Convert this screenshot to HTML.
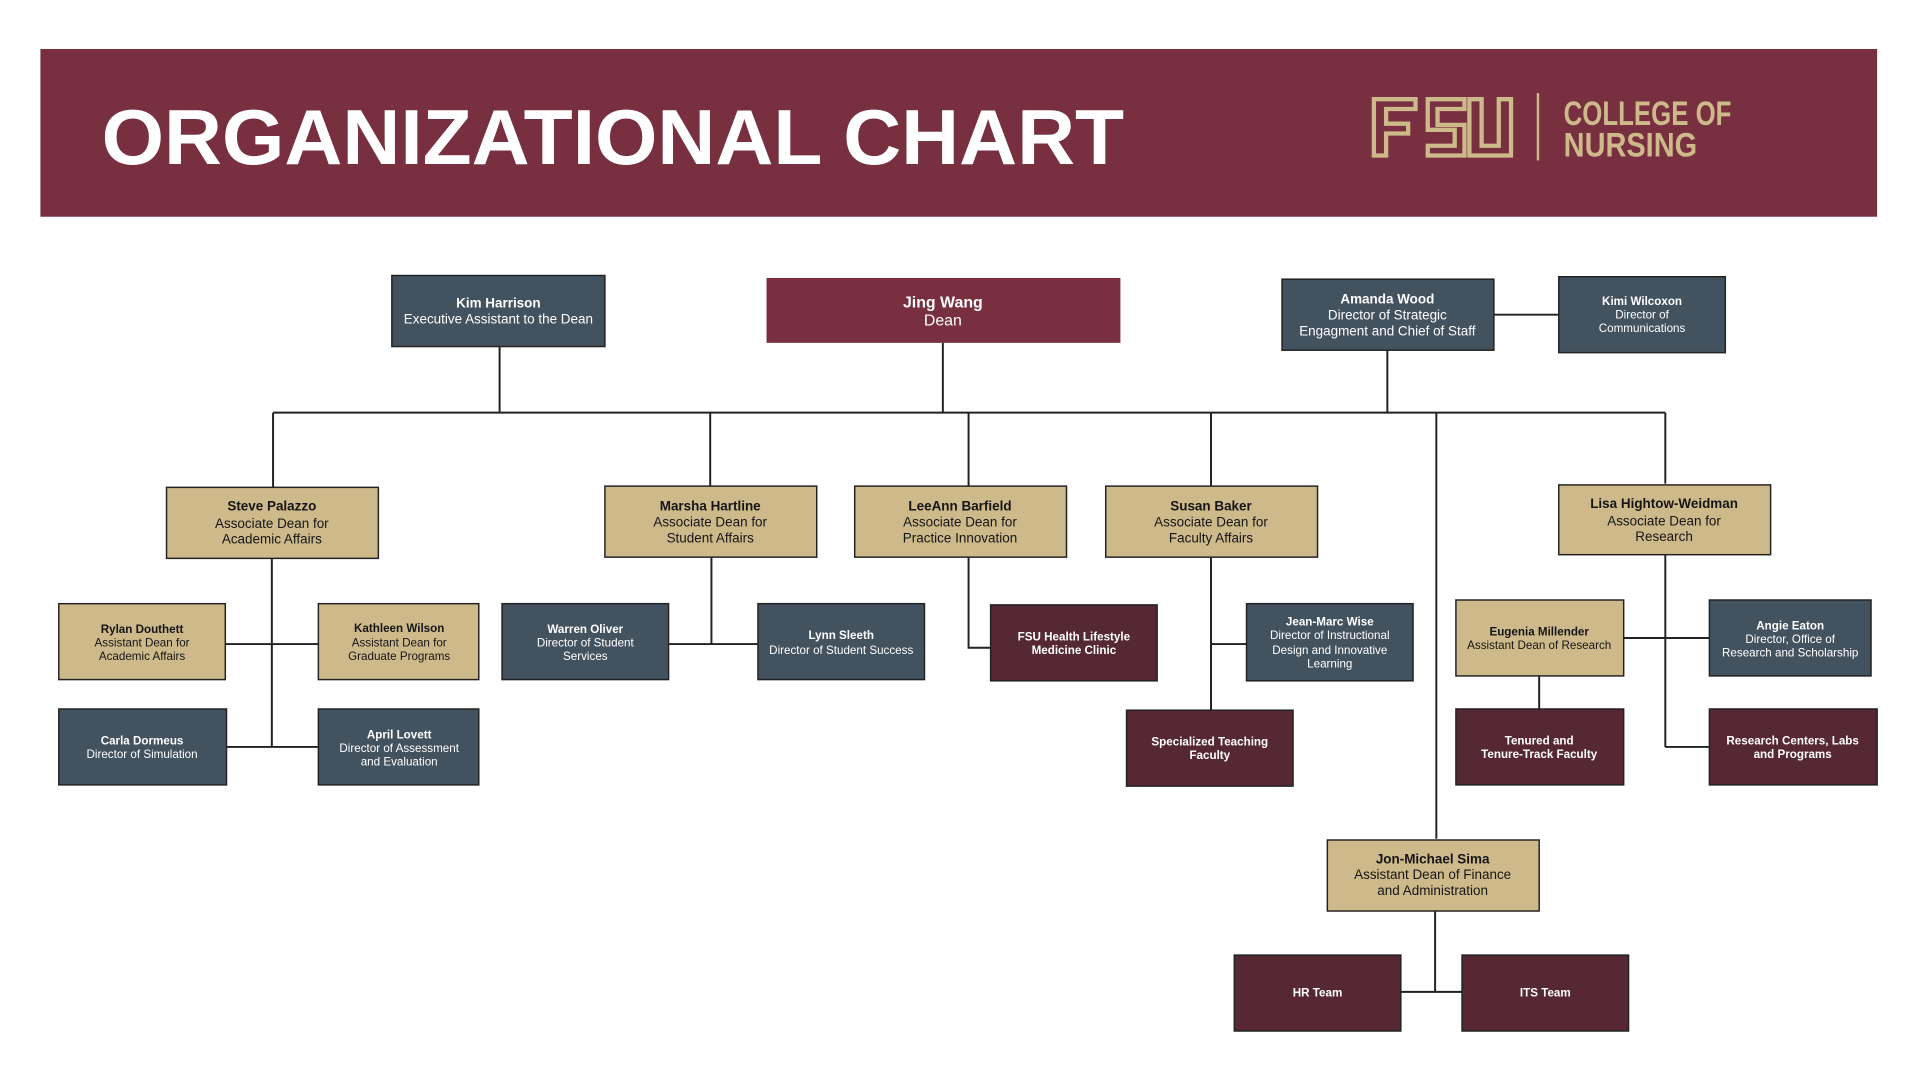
<!DOCTYPE html>
<html><head><meta charset="utf-8"><style>
html,body{margin:0;padding:0;background:#fff;width:1920px;height:1080px;overflow:hidden}
svg{display:block}
text{font-family:"Liberation Sans",sans-serif;text-anchor:middle}
.b{font-weight:bold}
.w{fill:#fff}.k{fill:#161616}
.ln{stroke:#222;stroke-width:1.6;fill:none}
.g{fill:#cdb98a;stroke:#222;stroke-width:1.2}
.s{fill:#43525f;stroke:#222;stroke-width:1.2}
.m{fill:#552833;stroke:#222;stroke-width:1.2}
</style></head><body>
<svg width="1920" height="1080" viewBox="0 0 1568 882" preserveAspectRatio="none">
<rect x="33" y="40" width="1500" height="137" fill="#782f40"/>
<text x="83" y="134" style="text-anchor:start;font-size:64px;font-weight:bold" fill="#fff" textLength="835" lengthAdjust="spacingAndGlyphs">ORGANIZATIONAL CHART</text>
<g fill="none" stroke="#cdb98a" stroke-width="3.5">
<path d="M1122 81h34v8h-24v12h18v8h-18v18h-10z"/>
<path d="M1196 81h-30v25h22v13h-22v8h30v-25h-22v-13h22z"/>
<path d="M1200 81h10v38h14v-38h10v46h-34z"/>
</g>
<rect x="1255" y="76" width="2" height="55" fill="#cdb98a"/>
<text x="1277" y="102" style="text-anchor:start;font-size:28px;font-weight:bold" fill="#cdb98a" textLength="137" lengthAdjust="spacingAndGlyphs">COLLEGE OF</text>
<text x="1277" y="128" style="text-anchor:start;font-size:28px;font-weight:bold" fill="#cdb98a" textLength="109" lengthAdjust="spacingAndGlyphs">NURSING</text>

<!-- connectors -->
<path class="ln" d="M223 337H1360M408 283V337M770 280V337M1133 286V337M223 337V398M580 337V397M791 337V397M989 337V397M1173 337V685M1360 337V395"/>
<path class="ln" d="M1220 257H1273"/>
<path class="ln" d="M222 456V610M184 526H260M185 610H260"/>
<path class="ln" d="M581 455V526M546 526H619"/>
<path class="ln" d="M791 455V529H809"/>
<path class="ln" d="M989 455V580M989 526H1018"/>
<path class="ln" d="M1360 453V610M1326 521H1396M1360 610H1396M1257 552V579"/>
<path class="ln" d="M1172 744V810M1144 810H1194"/>

<!-- top row -->
<rect class="s" x="320" y="225" width="174" height="58"/>
<text class="w b" x="407" y="251" font-size="11">Kim Harrison</text>
<text class="w" x="407" y="264" font-size="11">Executive Assistant to the Dean</text>
<rect x="626" y="227" width="289" height="53" fill="#782f40"/>
<text class="w b" x="770" y="251" font-size="13">Jing Wang</text>
<text class="w" x="770" y="266" font-size="13">Dean</text>
<rect class="s" x="1047" y="228" width="173" height="58"/>
<text class="w b" x="1133" y="248" font-size="11">Amanda Wood</text>
<text class="w" x="1133" y="261" font-size="11">Director of Strategic</text>
<text class="w" x="1133" y="274" font-size="11">Engagment and Chief of Staff</text>
<rect class="s" x="1273" y="226" width="136" height="62"/>
<text class="w b" x="1341" y="249" font-size="9.5">Kimi Wilcoxon</text>
<text class="w" x="1341" y="260" font-size="9.5">Director of</text>
<text class="w" x="1341" y="271" font-size="9.5">Communications</text>

<!-- level 2 -->
<rect class="g" x="136" y="398" width="173" height="58"/>
<text class="k b" x="222" y="417" font-size="11">Steve Palazzo</text>
<text class="k" x="222" y="431" font-size="11">Associate Dean for</text>
<text class="k" x="222" y="444" font-size="11">Academic Affairs</text>
<rect class="g" x="494" y="397" width="173" height="58"/>
<text class="k b" x="580" y="417" font-size="11">Marsha Hartline</text>
<text class="k" x="580" y="430" font-size="11">Associate Dean for</text>
<text class="k" x="580" y="443" font-size="11">Student Affairs</text>
<rect class="g" x="698" y="397" width="173" height="58"/>
<text class="k b" x="784" y="417" font-size="11">LeeAnn Barfield</text>
<text class="k" x="784" y="430" font-size="11">Associate Dean for</text>
<text class="k" x="784" y="443" font-size="11">Practice Innovation</text>
<rect class="g" x="903" y="397" width="173" height="58"/>
<text class="k b" x="989" y="417" font-size="11">Susan Baker</text>
<text class="k" x="989" y="430" font-size="11">Associate Dean for</text>
<text class="k" x="989" y="443" font-size="11">Faculty Affairs</text>
<rect class="g" x="1273" y="396" width="173" height="57"/>
<text class="k b" x="1359" y="415" font-size="11">Lisa Hightow-Weidman</text>
<text class="k" x="1359" y="429" font-size="11">Associate Dean for</text>
<text class="k" x="1359" y="442" font-size="11">Research</text>

<!-- level 3 -->
<rect class="g" x="48" y="493" width="136" height="62"/>
<text class="k b" x="116" y="517" font-size="9.5">Rylan Douthett</text>
<text class="k" x="116" y="528" font-size="9.5">Assistant Dean for</text>
<text class="k" x="116" y="539" font-size="9.5">Academic Affairs</text>
<rect class="g" x="260" y="493" width="131" height="62"/>
<text class="k b" x="326" y="516" font-size="9.5">Kathleen Wilson</text>
<text class="k" x="326" y="528" font-size="9.5">Assistant Dean for</text>
<text class="k" x="326" y="539" font-size="9.5">Graduate Programs</text>
<rect class="s" x="48" y="579" width="137" height="62"/>
<text class="w b" x="116" y="608" font-size="9.5">Carla Dormeus</text>
<text class="w" x="116" y="619" font-size="9.5">Director of Simulation</text>
<rect class="s" x="260" y="579" width="131" height="62"/>
<text class="w b" x="326" y="603" font-size="9.5">April Lovett</text>
<text class="w" x="326" y="614" font-size="9.5">Director of Assessment</text>
<text class="w" x="326" y="625" font-size="9.5">and Evaluation</text>

<rect class="s" x="410" y="493" width="136" height="62"/>
<text class="w b" x="478" y="517" font-size="9.5">Warren Oliver</text>
<text class="w" x="478" y="528" font-size="9.5">Director of Student</text>
<text class="w" x="478" y="539" font-size="9.5">Services</text>
<rect class="s" x="619" y="493" width="136" height="62"/>
<text class="w b" x="687" y="522" font-size="9.5">Lynn Sleeth</text>
<text class="w" x="687" y="534" font-size="9.5">Director of Student Success</text>

<rect class="m" x="809" y="494" width="136" height="62"/>
<text class="w b" x="877" y="523" font-size="9.5">FSU Health Lifestyle</text>
<text class="w b" x="877" y="534" font-size="9.5">Medicine Clinic</text>

<rect class="s" x="1018" y="493" width="136" height="63"/>
<text class="w b" x="1086" y="511" font-size="9.5">Jean-Marc Wise</text>
<text class="w" x="1086" y="522" font-size="9.5">Director of Instructional</text>
<text class="w" x="1086" y="534" font-size="9.5">Design and Innovative</text>
<text class="w" x="1086" y="545" font-size="9.5">Learning</text>
<rect class="m" x="920" y="580" width="136" height="62"/>
<text class="w b" x="988" y="609" font-size="9.5">Specialized Teaching</text>
<text class="w b" x="988" y="620" font-size="9.5">Faculty</text>

<rect class="g" x="1189" y="490" width="137" height="62"/>
<text class="k b" x="1257" y="519" font-size="9.5">Eugenia Millender</text>
<text class="k" x="1257" y="530" font-size="9.5">Assistant Dean of Research</text>
<rect class="s" x="1396" y="490" width="132" height="62"/>
<text class="w b" x="1462" y="514" font-size="9.5">Angie Eaton</text>
<text class="w" x="1462" y="525" font-size="9.5">Director, Office of</text>
<text class="w" x="1462" y="536" font-size="9.5">Research and Scholarship</text>
<rect class="m" x="1189" y="579" width="137" height="62"/>
<text class="w b" x="1257" y="608" font-size="9.5">Tenured and</text>
<text class="w b" x="1257" y="619" font-size="9.5">Tenure-Track Faculty</text>
<rect class="m" x="1396" y="579" width="137" height="62"/>
<text class="w b" x="1464" y="608" font-size="9.5">Research Centers, Labs</text>
<text class="w b" x="1464" y="619" font-size="9.5">and Programs</text>

<rect class="g" x="1084" y="686" width="173" height="58"/>
<text class="k b" x="1170" y="705" font-size="11">Jon-Michael Sima</text>
<text class="k" x="1170" y="718" font-size="11">Assistant Dean of Finance</text>
<text class="k" x="1170" y="731" font-size="11">and Administration</text>
<rect class="m" x="1008" y="780" width="136" height="62"/>
<text class="w b" x="1076" y="814" font-size="9.5">HR Team</text>
<rect class="m" x="1194" y="780" width="136" height="62"/>
<text class="w b" x="1262" y="814" font-size="9.5">ITS Team</text>
</svg>
</body></html>
